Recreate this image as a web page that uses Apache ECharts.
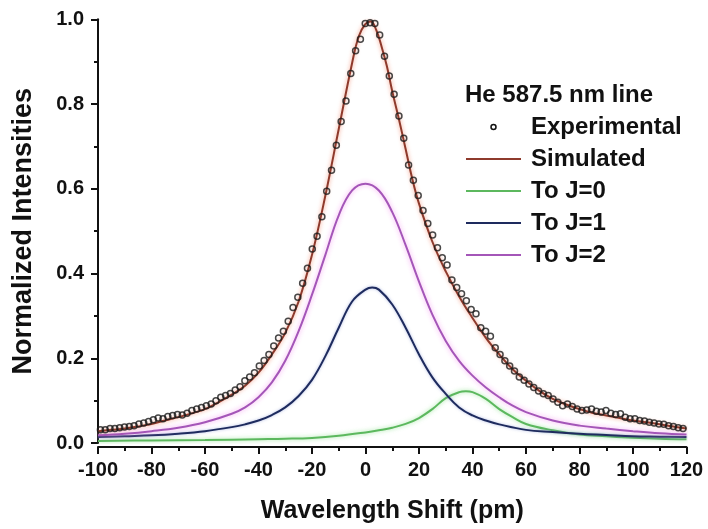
<!DOCTYPE html>
<html>
<head>
<meta charset="utf-8">
<script src="https://cdn.jsdelivr.net/npm/echarts@6/dist/echarts.min.js"></script>
<style>html,body{margin:0;padding:0;background:#fff}#c{width:708px;height:529px}</style>
</head>
<body>
<div id="c"></div>
<script>
// Experimental samples: wavelength grid start/step (pm) and normalized intensities
var expStart = -99.1;
var expStep = 1.8;
var expValues = [0.031,0.031,0.034,0.034,0.036,0.0375,0.039,0.041,0.045,0.047,0.051,0.055,0.059,0.057,0.0625,0.065,0.067,0.066,0.070,0.077,0.080,0.084,0.088,0.092,0.100,0.108,0.112,0.117,0.125,0.133,0.147,0.156,0.166,0.182,0.195,0.209,0.229,0.248,0.264,0.2875,0.320,0.344,0.377,0.4125,0.458,0.488,0.534,0.594,0.644,0.703,0.759,0.807,0.872,0.926,0.953,0.990,0.992,0.990,
0.963,0.9125,0.866,0.823,0.772,0.719,0.656,0.620,0.584,0.549,0.518,0.491,0.461,0.4375,0.420,0.385,0.367,0.352,0.336,0.315,0.305,0.272,0.264,0.252,0.225,0.209,0.194,0.182,0.170,0.156,0.148,0.139,0.131,0.123,0.116,0.112,0.104,0.096,0.088,0.092,0.086,0.080,0.077,0.078,0.080,0.075,0.073,0.077,0.070,0.067,0.069,0.061,0.057,0.057,0.053,0.052,0.049,0.047,0.045,0.044,0.041,0.039,0.036,0.034,0.031];

// Simulated total profile
var simX = [-100,-95,-90,-85,-80,-75,-70,-65,-60,-55,-50,-45,-40,-35,-30,-25,-20,-15,-10,-5,-2.5,0,2,4,6,8,10,12.5,15,17.5,20,25,30,35,40,45,50,55,60,65,70,75,80,85,90,95,100,105,110,115,120];
var simY = [0.028,0.031,0.034,0.039,0.045,0.053,0.061,0.070,0.080,0.096,0.114,0.135,0.166,0.209,0.260,0.334,0.444,0.584,0.741,0.897,0.960,0.989,0.995,0.975,0.936,0.889,0.830,0.764,0.694,0.623,0.565,0.475,0.405,0.346,0.295,0.248,0.209,0.174,0.147,0.123,0.104,0.091,0.080,0.071,0.065,0.059,0.053,0.049,0.044,0.039,0.034];

// To J=0 component
var j0X = [-100,-80,-60,-40,-30,-20,-10,0,5,10,15,20,25,30,35,37.5,40,45,50,55,60,70,80,90,100,110,120];
var j0Y = [0.005,0.006,0.007,0.009,0.010,0.012,0.017,0.025,0.030,0.036,0.045,0.059,0.080,0.106,0.120,0.122,0.120,0.104,0.080,0.061,0.045,0.030,0.020,0.016,0.0125,0.010,0.0086];

// To J=1 component
var j1X = [-100,-90,-80,-70,-60,-50,-45,-40,-35,-30,-25,-20,-15,-10,-5,0,2.5,5,10,15,20,25,30,35,40,45,50,60,70,80,90,100,110,120];
var j1Y = [0.014,0.016,0.018,0.022,0.028,0.0375,0.044,0.053,0.066,0.084,0.111,0.149,0.205,0.272,0.334,0.362,0.367,0.362,0.327,0.272,0.209,0.155,0.116,0.084,0.065,0.053,0.044,0.031,0.026,0.022,0.019,0.016,0.015,0.014];

// To J=2 component
var j2X = [-100,-90,-80,-70,-60,-50,-45,-40,-35,-30,-25,-20,-15,-10,-5,0,5,10,15,20,25,30,35,40,45,50,55,60,70,80,90,100,110,120];
var j2Y = [0.018,0.022,0.028,0.036,0.049,0.069,0.084,0.108,0.143,0.194,0.264,0.350,0.444,0.5375,0.596,0.612,0.596,0.545,0.467,0.381,0.303,0.241,0.194,0.159,0.131,0.108,0.088,0.073,0.053,0.041,0.034,0.028,0.023,0.020];

var xTicks = [-100,-80,-60,-40,-20,0,20,40,60,80,100,120];
var yTicks = [0.0,0.2,0.4,0.6,0.8,1.0];

function zip(xs, ys){ return xs.map(function(x,i){ return [x, ys[i]]; }); }
var expData = expValues.map(function(v,i){ return [expStart + i*expStep, v]; });

var FONT = "'Liberation Sans', Arial, sans-serif";
var chart = echarts.init(document.getElementById('c'), null, {renderer:'canvas'});
chart.setOption({
  animation: false,
  backgroundColor: '#fff',
  title: {
    text: 'He 587.5 nm line',
    left: 465, top: 83, padding: 0,
    textStyle: {fontFamily: FONT, fontWeight: 'bold', fontSize: 24, lineHeight: 24, color: '#111'}
  },
  legend: {
    orient: 'vertical',
    left: 465, top: 115, padding: 0,
    itemWidth: 55, itemHeight: 5, itemGap: 8,
    selectedMode: false,
    itemStyle: {opacity: 0},
    textStyle: {fontFamily: FONT, fontWeight: 'bold', fontSize: 24, lineHeight: 24, color: '#111', padding: [0,0,0,5]},
    data: [
      {name: 'Experimental', icon: 'circle', itemStyle: {opacity: 1, color: '#fff', borderColor: '#111', borderWidth: 1.5}},
      {name: 'Simulated'},
      {name: 'To J=0'},
      {name: 'To J=1'},
      {name: 'To J=2'}
    ]
  },
  grid: {left: 98, right: 21.5, top: 19.3, bottom: 83, containLabel: false},
  xAxis: {
    type: 'value', min: -100, max: 120, interval: 20,
    offset: 4,
    name: 'Wavelength Shift (pm)', nameLocation: 'middle', nameGap: 52,
    nameTextStyle: {fontFamily: FONT, fontWeight: 'bold', fontSize: 25, color: '#111'},
    axisLine: {show: true, onZero: false, lineStyle: {color: '#111', width: 2}},
    axisTick: {show: true, inside: false, length: 7, lineStyle: {color: '#111', width: 2}},
    minorTick: {show: true, splitNumber: 2, length: 4, lineStyle: {color: '#111', width: 2}},
    splitLine: {show: false},
    axisLabel: {fontFamily: FONT, fontWeight: 'bold', fontSize: 20, color: '#111', margin: 13,
      formatter: function(v){ return xTicks.indexOf(v) >= 0 ? String(v) : ''; }}
  },
  yAxis: {
    type: 'value', min: 0, max: 1.0, interval: 0.2,
    name: 'Normalized Intensities', nameLocation: 'middle', nameGap: 61,
    nameTextStyle: {fontFamily: FONT, fontWeight: 'bold', fontSize: 27, color: '#111'},
    axisLine: {show: true, onZero: false, lineStyle: {color: '#111', width: 2}},
    axisTick: {show: true, inside: false, length: 7, lineStyle: {color: '#111', width: 2}},
    minorTick: {show: true, splitNumber: 2, length: 4, lineStyle: {color: '#111', width: 2}},
    splitLine: {show: false},
    axisLabel: {fontFamily: FONT, fontWeight: 'bold', fontSize: 20, color: '#111', margin: 14,
      formatter: function(v){ return v.toFixed(1); }}
  },
  series: [
    {name: 'To J=0', type: 'line', data: zip(j0X, j0Y), showSymbol: false, symbol: 'none', smooth: 0.4,
      lineStyle: {color: '#5cb85e', width: 2, shadowColor: 'rgba(120,220,120,0.7)', shadowBlur: 4}, itemStyle: {color: '#5cb85e'}, z: 2},
    {name: 'To J=1', type: 'line', data: zip(j1X, j1Y), showSymbol: false, symbol: 'none', smooth: 0.4,
      lineStyle: {color: '#1e2b5e', width: 2, shadowColor: 'rgba(100,120,200,0.5)', shadowBlur: 3}, itemStyle: {color: '#1e2b5e'}, z: 2},
    {name: 'To J=2', type: 'line', data: zip(j2X, j2Y), showSymbol: false, symbol: 'none', smooth: 0.4,
      lineStyle: {color: '#a456b8', width: 2, shadowColor: 'rgba(245,150,240,0.9)', shadowBlur: 5}, itemStyle: {color: '#a456b8'}, z: 2},
    {name: 'Simulated', type: 'line', data: zip(simX, simY), showSymbol: false, symbol: 'none', smooth: 0.4,
      lineStyle: {color: '#8e3a2c', width: 2, shadowColor: 'rgba(240,130,100,0.8)', shadowBlur: 4}, itemStyle: {color: '#8e3a2c'}, z: 3},
    {name: 'Experimental', type: 'scatter', data: expData, symbol: 'circle', symbolSize: 6,
      itemStyle: {color: 'rgba(255,255,255,0)', borderColor: '#1a1a1a', borderWidth: 1.5}, z: 4}
  ]
});
</script>
</body>
</html>
